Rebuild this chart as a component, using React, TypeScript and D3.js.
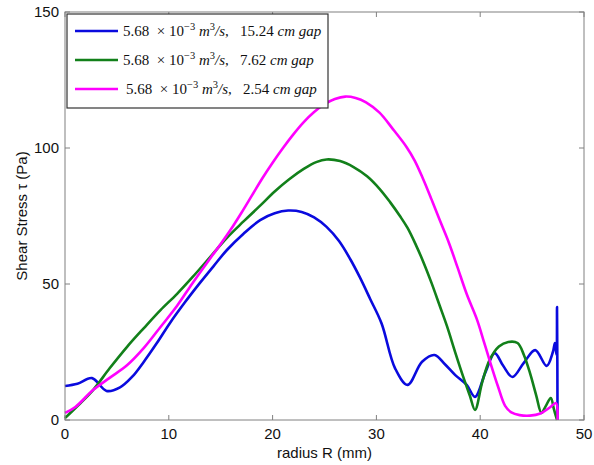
import React, { useEffect, useRef } from 'react';
import * as d3 from 'd3';

// radius (mm) / shear stress (Pa) for each gap
const blueR = [0, 1.2, 2.6, 4, 5.3, 6.5, 7.5, 8.8, 10.1, 11.5, 13, 14.3, 15.6, 17.2, 18.8, 20.2, 21.5, 22.8, 24, 25.2, 26.4, 27.5, 28.4, 29.4, 30.5, 31.8, 33, 34.4, 35.6, 36.6, 37.6, 38.7, 39.5, 40.5, 41.4, 42.2, 43.1, 44.2, 45.3, 46.4, 47.0, 47.2, 47.35, 47.4, 47.45];
const blueTau = [12.5, 13.3, 15.4, 10.7, 12, 16, 20.9, 28, 35.6, 43, 50.4, 56.5, 62.5, 68.5, 73.5, 76, 77, 76.5, 74.5, 71, 65.8, 59, 52.5, 44.5, 35.5, 19, 12.9, 21.4, 23.9, 20.5, 16.5, 12.9, 8.5, 17.5, 24.6, 20, 15.8, 21, 25.7, 19.9, 25, 28.3, 24, 41.5, 0];

const greenR = [0, 1.3, 2.7, 4.3, 6, 7.6, 9.2, 10.8, 12.3, 14, 15.6, 17.2, 18.8, 20.2, 21.6, 23, 24.2, 25.2, 26.5, 27.8, 29.1, 30.3, 31.3, 32.3, 33, 33.8, 34.5, 35.3, 36.1, 36.8, 37.6, 38.4, 39, 39.5, 40.2, 40.9, 41.8, 42.7, 43.6, 44.2, 44.8, 45.4, 45.9, 46.3, 46.8, 47.1, 47.4];
const greenTau = [0.7, 5.5, 11, 19, 27, 33.8, 40.4, 46.4, 52.6, 60, 67, 73, 78.8, 84, 88.5, 92.3, 94.8, 95.8, 95.2, 93, 89.6, 85, 80.2, 74.8, 70.6, 64.4, 58.3, 50.5, 42, 34.5, 24.8, 15.5, 9, 3.7, 14, 22, 27, 28.7, 28.3, 24, 17.2, 9, 2.6, 5, 8.1, 4, 0];

const magentaR = [0, 1, 2.7, 4.3, 6, 7.6, 9.2, 10.8, 12.3, 14, 15, 16, 17, 18, 19, 20, 21, 22, 23, 24, 25, 26, 27, 28, 29, 30.3, 31.5, 32.9, 33.7, 34.5, 35.3, 36.1, 37, 37.8, 38.7, 39.7, 40.3, 40.9, 41.7, 42.4, 43, 43.8, 44.8, 45.8, 46.7, 47.3, 47.45];
const magentaTau = [2.6, 4.8, 11, 15.5, 20.2, 26.5, 34.2, 42, 50.4, 59.5, 64.7, 70.2, 76.2, 82.5, 88.8, 94.6, 100, 105, 109.5, 113.2, 116.1, 118, 118.9, 118.4, 116.8, 113, 107.4, 100.4, 95.3, 88.6, 81.2, 73.5, 65, 56.3, 46.3, 36.8, 29.5, 22, 12.5, 5.2, 2.8, 1.8, 1.6, 2.4, 4.6, 6.2, 0];

const gaps = ['15.24', '7.62', '2.54'];
const colors = ['#0a0ade', '#12801a', '#ff00ff'];
const xTicks = [0, 10, 20, 30, 40, 50];
const yTicks = [0, 50, 100, 150];

const W = 594;
const H = 465;
const M = { top: 12, right: 10, bottom: 45, left: 65 };

export default function App() {
  const ref = useRef<SVGSVGElement>(null);

  useEffect(() => {
    const svg = d3.select(ref.current);
    svg.selectAll('*').remove();

    const x = d3.scaleLinear().domain([0, 50]).range([M.left, W - M.right]);
    const y = d3.scaleLinear().domain([0, 150]).range([H - M.bottom, M.top]);
    const font = '"Liberation Sans", Arial, sans-serif';
    const axisColor = '#808080';

    svg.append('rect').attr('width', W).attr('height', H).attr('fill', '#fff');

    const series = [
      { r: blueR, t: blueTau },
      { r: greenR, t: greenTau },
      { r: magentaR, t: magentaTau },
    ];

    const line = d3
      .line<[number, number]>()
      .x((d) => x(d[0]))
      .y((d) => y(d[1]))
      .curve(d3.curveCatmullRom.alpha(0.5));

    const plot = svg.append('g');
    series.forEach((s, i) => {
      const pts = s.r.map((r, j) => [r, s.t[j]] as [number, number]);
      plot
        .append('path')
        .attr('d', line(pts))
        .attr('fill', 'none')
        .attr('stroke', colors[i])
        .attr('stroke-width', 2.6)
        .attr('stroke-linejoin', 'round');
    });

    // frame (box on)
    svg
      .append('rect')
      .attr('x', x(0))
      .attr('y', y(150))
      .attr('width', x(50) - x(0))
      .attr('height', y(0) - y(150))
      .attr('fill', 'none')
      .attr('stroke', axisColor)
      .attr('stroke-width', 1);

    // ticks inward on all sides
    const tk = 5;
    xTicks.forEach((v) => {
      svg.append('line').attr('x1', x(v)).attr('x2', x(v)).attr('y1', y(0)).attr('y2', y(0) - tk).attr('stroke', axisColor);
      svg.append('line').attr('x1', x(v)).attr('x2', x(v)).attr('y1', y(150)).attr('y2', y(150) + tk).attr('stroke', axisColor);
      svg
        .append('text')
        .attr('x', x(v))
        .attr('y', y(0) + 19)
        .attr('text-anchor', 'middle')
        .style('font-family', font)
        .style('font-size', '15px')
        .attr('fill', '#111')
        .text(v);
    });
    yTicks.forEach((v) => {
      svg.append('line').attr('x1', x(0)).attr('x2', x(0) + tk).attr('y1', y(v)).attr('y2', y(v)).attr('stroke', axisColor);
      svg.append('line').attr('x1', x(50)).attr('x2', x(50) - tk).attr('y1', y(v)).attr('y2', y(v)).attr('stroke', axisColor);
      svg
        .append('text')
        .attr('x', x(0) - 6)
        .attr('y', y(v) + 5)
        .attr('text-anchor', 'end')
        .style('font-family', font)
        .style('font-size', '15px')
        .attr('fill', '#111')
        .text(v);
    });

    svg
      .append('text')
      .attr('x', (x(0) + x(50)) / 2)
      .attr('y', H - 7)
      .attr('text-anchor', 'middle')
      .style('font-family', font)
      .style('font-size', '15px')
      .attr('fill', '#111')
      .text('radius R (mm)');

    svg
      .append('text')
      .attr('transform', `translate(27, ${(y(0) + y(150)) / 2}) rotate(-90)`)
      .attr('text-anchor', 'middle')
      .style('font-family', font)
      .style('font-size', '15px')
      .attr('fill', '#111')
      .text('Shear Stress τ (Pa)');

    // legend
    const lg = svg.append('g').attr('transform', 'translate(67, 14)');
    lg.append('rect').attr('width', 261).attr('height', 94).attr('fill', '#fff').attr('stroke', '#333').attr('stroke-width', 1.2);
    const serif = '"Liberation Serif", "DejaVu Serif", serif';
    gaps.forEach((g, i) => {
      const ly = 17 + i * 29;
      lg.append('line').attr('x1', 8).attr('x2', 51).attr('y1', ly).attr('y2', ly).attr('stroke', colors[i]).attr('stroke-width', 2.6);
      const t = lg
        .append('text')
        .attr('x', 56 + (i === 2 ? 3 : 0))
        .attr('y', ly + 5)
        .style('font-family', serif)
        .style('font-size', '15px')
        .attr('fill', '#111')
        .attr('xml:space', 'preserve');
      t.append('tspan').text('5.68  × 10');
      t.append('tspan').attr('dy', -6).style('font-size', '10.5px').text('−3');
      t.append('tspan').attr('dy', 6).text(' ');
      t.append('tspan').style('font-style', 'italic').text('m');
      t.append('tspan').attr('dy', -6).style('font-size', '10.5px').text('3');
      t.append('tspan').attr('dy', 6).style('font-style', 'italic').text('/s');
      t.append('tspan').text(',   ' + g + ' ');
      t.append('tspan').style('font-style', 'italic').text('cm gap');
    });
  }, []);

  return <svg ref={ref} width={W} height={H} style={{ position: 'absolute', left: 0, top: 0 }} />;
}
